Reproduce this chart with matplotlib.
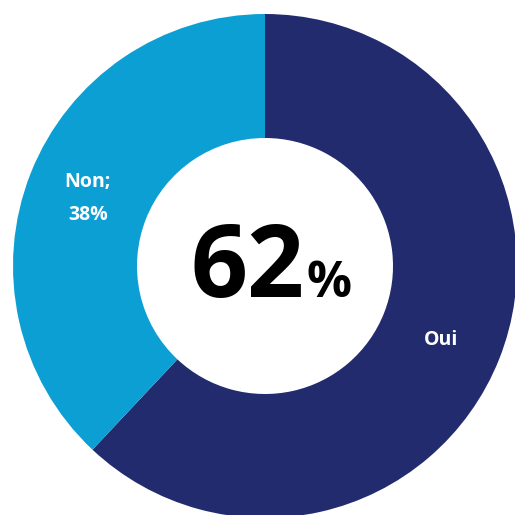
import matplotlib
matplotlib.use('Agg')
import matplotlib.pyplot as plt

labels = ['Oui', 'Non']
values = [62, 38]
colors = ['#222B6E', '#0C9FD4']

W = H = 515
fig = plt.figure(figsize=(5.15, 5.15), dpi=100)
ax = fig.add_axes([0, 0, 1, 1])

cx, cy = 265, H - 266
r_out, r_in = 252, 128

ax.pie(values, colors=colors, startangle=90, counterclock=False,
       center=(cx, cy), radius=r_out, frame=True,
       wedgeprops=dict(width=r_out - r_in, linewidth=0))
ax.set_xlim(0, W)
ax.set_ylim(0, H)
ax.set_aspect('equal')
ax.axis('off')

lbl = dict(color='white', fontsize=14, fontweight='bold', family='Open Sans',
           ha='center', va='center')
ax.text(88, H - 182, 'Non;', **lbl)
ax.text(88, H - 215, f'{values[1]}%', **lbl)
ax.text(441, H - 340, labels[0], **lbl)

# valeur centrale
ax.text(304, H - 297, f'{values[0]}', fontsize=72, fontweight='bold',
        family='Open Sans', color='black', ha='right', va='baseline')
ax.text(306, H - 297, '%', fontsize=36, fontweight='bold',
        family='Open Sans', color='black', ha='left', va='baseline')

fig.savefig('out.png', dpi=100)
